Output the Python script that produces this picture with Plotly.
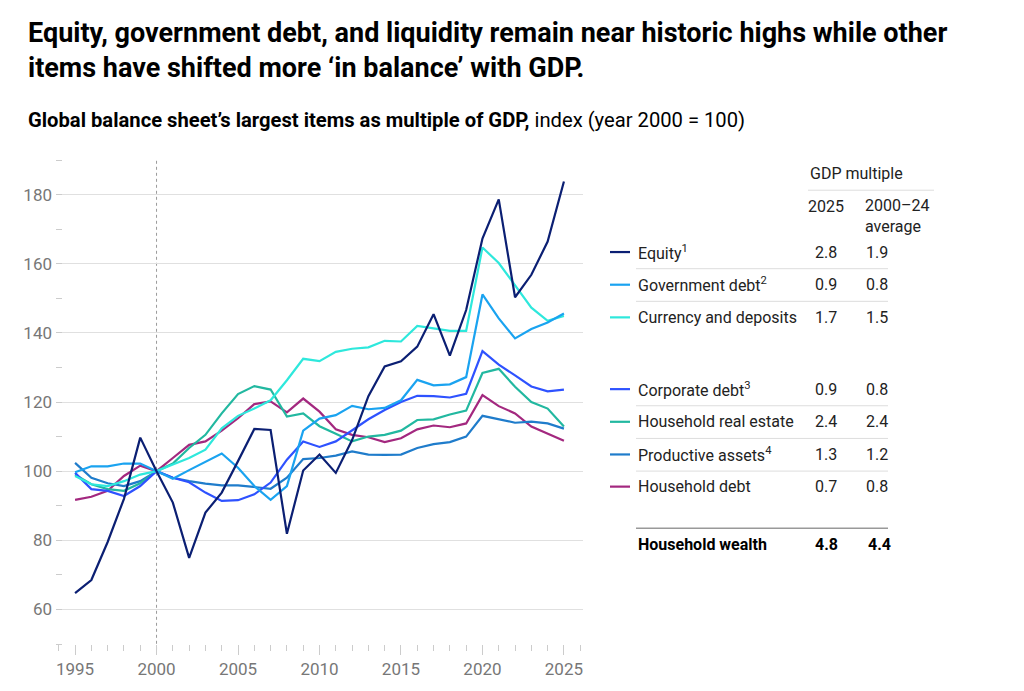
import plotly.graph_objects as go

years = list(range(1995, 2026))

equity = [64.7, 68.5, 79.5, 92.0, 109.7, 100, 90.9, 74.9, 88.0, 93.8, 102.9, 112.2, 111.9, 81.9, 100.2,
          104.8, 99.5, 109.0, 121.7, 130.3, 131.8, 136.0, 145.4, 133.4, 146.6, 167.3, 178.6, 150.3, 156.8, 166.4, 183.8]
gov_debt = [99.7, 101.4, 101.4, 102.2, 102.2, 100, 97.8, 100.3, 102.7, 105.1, 101.0, 95.7, 91.7, 95.7, 111.7,
            115.2, 116.2, 118.9, 117.9, 118.3, 120.5, 126.4, 124.8, 125.1, 127.2, 151.1, 144.2, 138.4, 141.1, 143.0, 145.6]
currency = [98.6, 96.2, 95.7, 97.1, 99.0, 100, 101.9, 103.8, 106.2, 112.4, 116.0, 118.1, 120.5, 126.3, 132.5,
            131.8, 134.5, 135.4, 135.8, 137.7, 137.5, 142.0, 141.3, 140.6, 140.6, 164.7, 160.2, 153.8, 147.3, 143.5, 144.9]
corporate = [99.5, 94.8, 94.3, 92.8, 95.7, 100, 98.1, 96.8, 93.8, 91.4, 91.6, 93.3, 96.7, 103.3, 108.6,
             107.0, 108.6, 111.9, 115.0, 117.7, 120.0, 121.8, 121.7, 121.3, 122.4, 134.7, 130.8, 127.7, 124.5, 123.1, 123.6]
real_estate = [99.0, 96.2, 94.8, 94.3, 96.5, 100, 102.2, 106.7, 110.5, 116.7, 122.3, 124.6, 123.6, 115.8, 116.7,
               113.0, 110.8, 108.6, 110.0, 110.5, 111.7, 114.8, 115.0, 116.4, 117.5, 128.4, 129.6, 124.4, 120.0, 118.1, 112.9]
productive = [102.4, 98.1, 96.5, 95.7, 97.1, 100, 98.1, 97.1, 96.4, 95.9, 95.9, 95.5, 94.9, 98.1, 103.5,
              103.8, 104.5, 105.7, 104.8, 104.7, 104.8, 106.7, 107.8, 108.4, 110.0, 116.0, 115.1, 114.0, 114.3, 113.8, 112.3]
hh_debt = [91.7, 92.6, 94.3, 98.6, 101.6, 100, 103.8, 107.6, 108.6, 111.7, 115.3, 119.4, 120.2, 117.0, 121.0,
           117.2, 112.1, 110.5, 109.8, 108.4, 109.5, 112.1, 113.2, 112.7, 113.8, 122.0, 118.8, 116.7, 112.9, 110.8, 108.8]

series_names = ["Equity", "Government debt", "Currency and deposits", "Corporate debt",
                "Household real estate", "Productive assets", "Household debt"]
series_sup = ["1", "2", "", "3", "", "4", ""]
series_values = [equity, gov_debt, currency, corporate, real_estate, productive, hh_debt]
series_colors = ["#0B1F73", "#1AA3F0", "#2EE8DC", "#2E52FF", "#22B8A0", "#1F7CCB", "#A3287F"]

multiple_2025 = ["2.8", "0.9", "1.7", "0.9", "2.4", "1.3", "0.7"]
multiple_avg = ["1.9", "0.8", "1.5", "0.8", "2.4", "1.2", "0.8"]
total_label = "Household wealth"
total_2025 = "4.8"
total_avg = "4.4"

y_ticks = [60, 80, 100, 120, 140, 160, 180]
x_ticks = [1995, 2000, 2005, 2010, 2015, 2020, 2025]

FONT = "Roboto"
OFF = 8  # page body margin
L, R, T, B = 56, 583, 160, 649  # plot area in page pixels
W, H = 1016, 683


def px(x):
    return (x - L) / (R - L)


def py(y):
    return (B - y) / (B - T)


fig = go.Figure()
order = [6, 5, 4, 3, 2, 1, 0]
for i in order:
    fig.add_trace(go.Scatter(x=years, y=series_values[i], mode="lines",
                             line=dict(color=series_colors[i], width=2.2),
                             name=series_names[i], showlegend=False, hoverinfo="skip"))

shapes = []
annotations = []

# dotted line at 2000
shapes.append(dict(type="line", xref="x", yref="paper", x0=2000, x1=2000, y0=-0.012, y1=1,
                   line=dict(color="#9a9a9a", width=1, dash="dot"), layer="below"))

# titles
annotations.append(dict(xref="paper", yref="paper", x=px(26), y=py(13), xanchor="left", yanchor="top",
                        align="left", showarrow=False,
                        text="<b>Equity, government debt, and liquidity remain near historic highs while other<br>items have shifted more ‘in balance’ with GDP.</b>",
                        font=dict(family=FONT, size=27, color="#000000")))
annotations.append(dict(xref="paper", yref="paper", x=px(26), y=py(120), xanchor="left", yanchor="middle",
                        showarrow=False,
                        text="<b>Global balance sheet’s largest items as multiple of GDP,</b> index (year 2000 = 100)",
                        font=dict(family=FONT, size=20.2, color="#000000")))

# table header
tf = dict(family=FONT, size=16, color="#222222")
annotations.append(dict(xref="paper", yref="paper", x=px(808), y=py(174), xanchor="left", yanchor="middle",
                        showarrow=False, text="GDP multiple", font=tf))
shapes.append(dict(type="line", xref="paper", yref="paper", x0=px(808), x1=px(934), y0=py(190.5), y1=py(190.5),
                   line=dict(color="#dddddd", width=1)))
annotations.append(dict(xref="paper", yref="paper", x=px(826), y=py(207), xanchor="center", yanchor="middle",
                        showarrow=False, text="2025", font=tf))
annotations.append(dict(xref="paper", yref="paper", x=px(863), y=py(217), xanchor="left", yanchor="middle",
                        showarrow=False, text="2000–24<br>average", align="left", font=tf))

row_y = [253, 286, 319, 391.5, 424.5, 457.5, 490]
for i, name in enumerate(series_names):
    yy = row_y[i]
    shapes.append(dict(type="line", xref="paper", yref="paper", x0=px(610), x1=px(630), y0=py(yy), y1=py(yy),
                       line=dict(color=series_colors[i], width=2.2)))
    label = name + (f"<sup>{series_sup[i]}</sup>" if series_sup[i] else "")
    annotations.append(dict(xref="paper", yref="paper", x=px(636), y=py(yy), xanchor="left", yanchor="middle",
                            showarrow=False, text=label, font=tf))
    annotations.append(dict(xref="paper", yref="paper", x=px(826), y=py(yy), xanchor="center", yanchor="middle",
                            showarrow=False, text=multiple_2025[i], font=tf))
    annotations.append(dict(xref="paper", yref="paper", x=px(877), y=py(yy), xanchor="center", yanchor="middle",
                            showarrow=False, text=multiple_avg[i], font=tf))
    if i in (0, 1, 3, 4, 5):
        sy = yy + 16.8
        shapes.append(dict(type="line", xref="paper", yref="paper", x0=px(636), x1=px(888), y0=py(sy), y1=py(sy),
                           line=dict(color="#dddddd", width=1)))

shapes.append(dict(type="line", xref="paper", yref="paper", x0=px(636), x1=px(888), y0=py(532), y1=py(532),
                   line=dict(color="#999999", width=1.5)))
bf = dict(family=FONT, size=16, color="#000000")
annotations.append(dict(xref="paper", yref="paper", x=px(636), y=py(548), xanchor="left", yanchor="middle",
                        showarrow=False, text=f"<b>{total_label}</b>", font=bf))
annotations.append(dict(xref="paper", yref="paper", x=px(826), y=py(548), xanchor="center", yanchor="middle",
                        showarrow=False, text=f"<b>{total_2025}</b>", font=bf))
annotations.append(dict(xref="paper", yref="paper", x=px(879), y=py(548), xanchor="center", yanchor="middle",
                        showarrow=False, text=f"<b>{total_avg}</b>", font=bf))

fig.update_layout(
    width=W, height=H,
    margin=dict(l=L - OFF, r=W + OFF - R, t=T - OFF, b=H + OFF - B, pad=0),
    paper_bgcolor="white", plot_bgcolor="white",
    shapes=shapes, annotations=annotations,
    font=dict(family=FONT),
    xaxis=dict(range=[1993.83, 2026.17], tickvals=x_ticks, ticktext=[str(v) for v in x_ticks],
               ticks="outside", ticklen=10, tickcolor="#cccccc", tickwidth=1,
               minor=dict(dtick=1, tick0=1995, ticks="outside", ticklen=6, tickcolor="#cccccc", tickwidth=1),
               showgrid=False, showline=False, zeroline=False,
               tickfont=dict(family=FONT, size=17, color="#777777")),
    yaxis=dict(range=[50, 190], tickvals=y_ticks, ticks="", showgrid=True, gridcolor="#e0e0e0", gridwidth=1,
               minor=dict(dtick=10, tick0=50, ticks="inside", ticklen=6, tickcolor="#cccccc", tickwidth=1,
                          showgrid=False),
               showline=False, zeroline=False, ticklabelstandoff=3,
               tickfont=dict(family=FONT, size=17, color="#777777")),
)

fig.write_html("out.html")
